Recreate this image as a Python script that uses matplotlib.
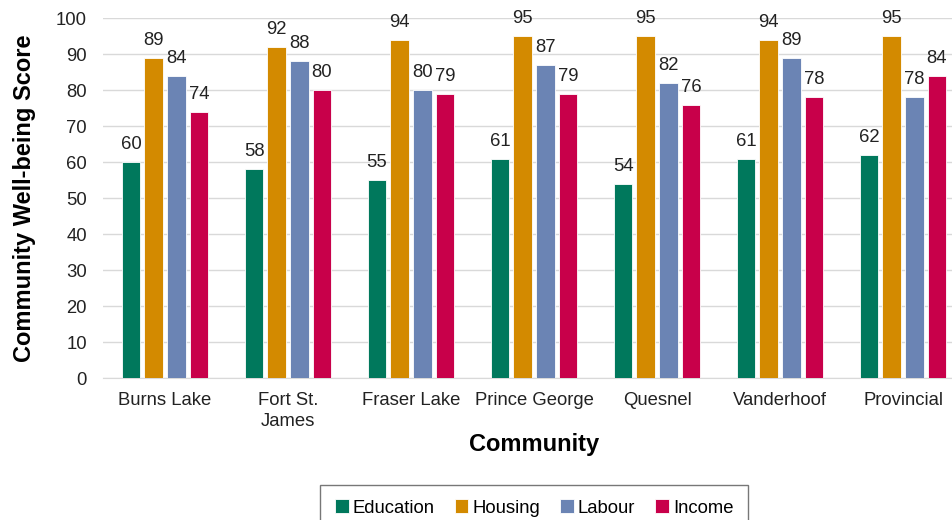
import matplotlib.pyplot as plt
import numpy as np

plt.rcParams["font.family"] = ["Liberation Sans", "DejaVu Sans"]

communities = ["Burns Lake", "Fort St.\nJames", "Fraser Lake", "Prince George",
               "Quesnel", "Vanderhoof", "Provincial"]
education = [60, 58, 55, 61, 54, 61, 62]
housing = [89, 92, 94, 95, 95, 94, 95]
labour = [84, 88, 80, 87, 82, 89, 78]
income = [74, 80, 79, 79, 76, 78, 84]

series = [("Education", education, "#00785C"),
          ("Housing", housing, "#D38A00"),
          ("Labour", labour, "#6B84B4"),
          ("Income", income, "#C8004A")]

fig = plt.figure(figsize=(9.53, 5.2), dpi=100)
ax = fig.add_axes([0.1086, 0.273, 0.9035, 0.692])

x = np.arange(len(communities))
step = 0.184
width = 0.152
for k, (name, vals, color) in enumerate(series):
    pos = x + (k - 1.5) * step
    bars = ax.bar(pos, vals, width, color=color, edgecolor="white",
                  linewidth=0.6, label=name, zorder=3)
    for b, v in zip(bars, vals):
        ax.annotate(str(v), (b.get_x() + b.get_width() / 2, v),
                    xytext=(0, 6.5), textcoords="offset points",
                    ha="center", va="bottom", fontsize=13.3, color="#222222",
                    zorder=4)

ax.set_xlim(-0.5, len(communities) - 0.5)
ax.set_ylim(0, 100)
ax.set_yticks(range(0, 101, 10))
ax.set_xticks(x)
ax.set_xticklabels(communities, fontsize=13.3, color="#222222",
                   linespacing=1.3)
ax.tick_params(axis="y", labelsize=13.3, colors="#222222", length=0, pad=12)
ax.tick_params(axis="x", length=0, pad=10)
ax.grid(axis="y", color="#D9D9D9", linewidth=1, zorder=0)
for side in ["top", "right", "left"]:
    ax.spines[side].set_visible(False)
ax.spines["bottom"].set_color("#D9D9D9")

ax.set_ylabel("Community Well-being Score", fontsize=17, fontweight="bold",
              labelpad=14)
ax.set_xlabel("Community", fontsize=17, fontweight="bold", labelpad=2)

fig.legend(loc="upper center", bbox_to_anchor=(0.5605, 0.068), ncol=4,
           fontsize=13.3, frameon=True, fancybox=False, edgecolor="#555555",
           handlelength=0.75, handleheight=0.75, handletextpad=0.2,
           columnspacing=1.1, borderpad=0.8, borderaxespad=0)

fig.savefig("out.png", dpi=100)
